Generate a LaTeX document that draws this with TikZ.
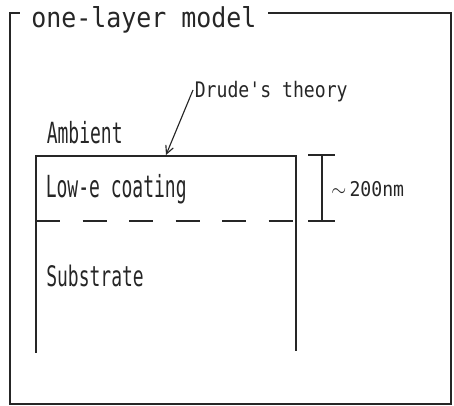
\documentclass[tikz,border=0pt]{standalone}
\usepackage{fontspec}
\newfontfamily\plotfont{DejaVu Sans Mono}
\usetikzlibrary{arrows.meta}
\begin{document}
\begin{tikzpicture}[x=0.75pt,y=-0.75pt,
  ink/.style={draw=black!85,line width=0.85pt},
  lbl/.style={inner sep=0pt,anchor=base west,text=black!85,font=\plotfont\fontsize{13.6pt}{17pt}\selectfont},
  layerlbl/.style={inner sep=0pt,anchor=base west,text=black!85,font=\plotfont\fontsize{13.5pt}{17pt}\selectfont},
  titlelbl/.style={inner sep=0pt,anchor=base west,text=black!85,font=\plotfont\fontsize{18.7pt}{22pt}\selectfont}]
\useasboundingbox (0,0) rectangle (454,406);
% outer frame with title
\node[titlelbl] (title) at (31,27.5) {\scalebox{1}[1.1]{one-layer model}};
\draw[ink] (268,13) -- (451,13) -- (451,404) -- (10,404) -- (10,13) -- (20,13);
% layer box
\coordinate (bl) at (36,353);
\coordinate (tl) at (36,156);
\coordinate (tr) at (296,156);
\coordinate (br) at (296,351);
\draw[ink] (bl) -- (tl) -- (tr) -- (br);
\coordinate (dl) at (36,221);
\coordinate (dr) at (296,221);
\draw[ink,dash pattern=on 18pt off 16.9pt] (dl) -- (dr);
% labels
\node[layerlbl] (ambient) at (46.5,144) {\scalebox{1}[1.62]{Ambient}};
\node[layerlbl] (coating) at (45.5,198) {\scalebox{1}[1.69]{Low-e coating}};
\node[layerlbl] (substrate) at (46,287) {\scalebox{1}[1.57]{Substrate}};
\node[lbl] (drude) at (194.5,98) {\scalebox{1}[1.18]{Drude's theory}};
% leader arrow
\coordinate (lstart) at (193,90);
\coordinate (ltip) at (166,155);
\draw[ink,-{Straight Barb[length=6pt,width=6pt]}] (lstart) -- (ltip);
% thickness dimension
\coordinate (dtop) at (322,155);
\coordinate (dbot) at (322,221);
\draw[ink] (308,155) -- (335,155);
\draw[ink] (308,221) -- (335,221);
\draw[ink] (dtop) -- (dbot);
\node[lbl] (thick) at (331,197) {\scalebox{1}[1.12]{$\sim$\hspace{2.5pt}200nm}};
\end{tikzpicture}
\end{document}
